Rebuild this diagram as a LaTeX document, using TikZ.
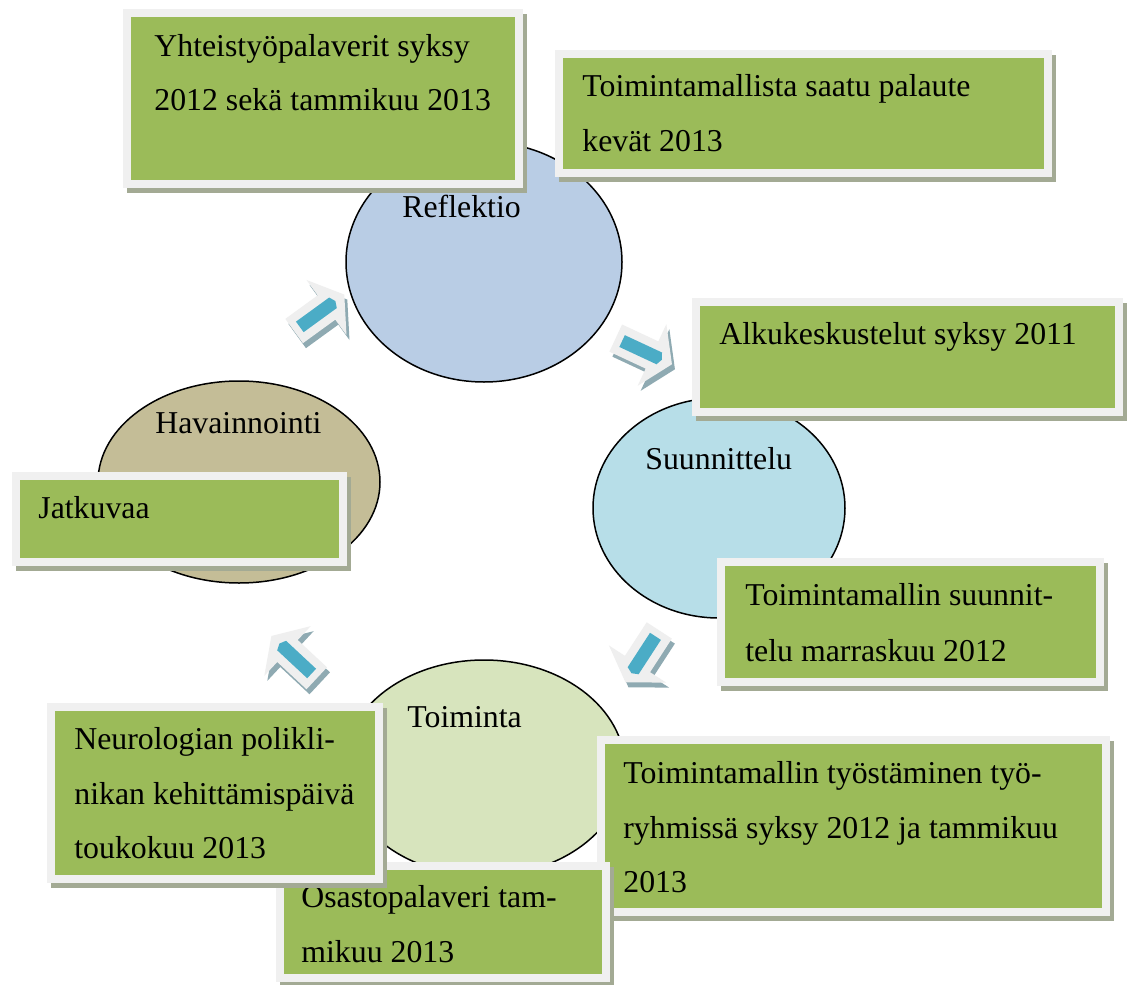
\documentclass[tikz,border=0pt]{standalone}
\usepackage{fontspec}
\setmainfont{Liberation Serif}
\usetikzlibrary{shapes.geometric}
\definecolor{boxgreen}{HTML}{9BBB59}
\definecolor{boxframe}{HTML}{F0F0F0}
\definecolor{boxshadow}{RGB}{163,170,148}
\definecolor{refl}{HTML}{B9CDE5}
\definecolor{suun}{HTML}{B7DEE8}
\definecolor{hava}{HTML}{C4BD97}
\definecolor{toim}{HTML}{D7E4BD}
\definecolor{arrbody}{HTML}{EFEFEF}
\definecolor{arrbar}{HTML}{4BACC6}
\definecolor{arrshadow}{RGB}{143,170,178}
\tikzset{
  phase/.style={ellipse, draw=black, line width=0.75pt, inner sep=0pt},
  txt/.style={anchor=base west, inner sep=0pt, font=\fontsize{15.9}{27}\selectfont},
}
% name, x1, y1, x2, y2 (px, y downwards)
\newcommand\gbox[5]{%
  \fill[boxshadow] (#2+4,#3+5) rectangle (#4+4,#5+5);
  \fill[boxframe] (#2,#3) rectangle (#4,#5);
  \fill[boxgreen] (#2+8,#3+8) rectangle (#4-8,#5-8);
  \coordinate (#1) at ({(#2+#4)/2},{(#3+#5)/2});
}
% name, x, y, angle
\newcommand\cyarrow[4]{%
  \begin{scope}[shift={(#2+3,#3+5)},rotate=#4]
    \fill[arrshadow] (-40,-15)--(0,-15)--(0,-34)--(22,0)--(0,34)--(0,15)--(-40,15)--cycle;
  \end{scope}
  \begin{scope}[shift={(#2,#3)},rotate=#4]
    \fill[arrbody] (-40,-15)--(0,-15)--(0,-34)--(22,0)--(0,34)--(0,15)--(-40,15)--cycle;
    \fill[arrbar] (-33,-6.5)--(8,-6.5)--(11,0)--(8,6.5)--(-33,6.5)--cycle;
    \coordinate (#1) at (0,0);
  \end{scope}
}
\begin{document}
\begin{tikzpicture}[x=0.5pt,y=-0.5pt]
\useasboundingbox (0,0) rectangle (1131,985);
\fill[white] (0,0) rectangle (1131,985);

% phases
\node[phase, fill=refl, minimum width=138pt, minimum height=120pt] (refl) at (484,262) {};
\node[phase, fill=suun, minimum width=126pt, minimum height=110pt] (suun) at (719,508) {};
\node[phase, fill=hava, minimum width=141pt, minimum height=101pt] (hava) at (239,482) {};
\node[phase, fill=toim, minimum width=141pt, minimum height=108pt] (toim) at (484,768) {};

\node[txt] (lrefl) at (402,217) {Reflektio};
\node[txt] (lsuun) at (645,469) {Suunnittelu};
\node[txt] (lhava) at (155,433) {Havainnointi};
\node[txt] (ltoim) at (407,727) {Toiminta};

% arrows
\cyarrow{a1}{326.5}{307.5}{36}
\cyarrow{a2}{652}{355}{-25}
\cyarrow{a3}{637.5}{664}{237}
\cyarrow{a4}{287.5}{651}{137}

% boxes
\gbox{b1}{123}{9}{523}{188}
\node[txt] (t1a) at (154,56) {Yhteistyöpalaverit syksy};
\node[txt] (t1b) at (154,110) {2012 sekä tammikuu 2013};

\gbox{b2}{555}{50}{1052}{177}
\node[txt] (t2a) at (582,97) {Toimintamallista saatu palaute};
\node[txt] (t2b) at (582,151) {kevät 2013};

\gbox{b3}{692}{298}{1123}{416}
\node[txt] (t3a) at (719,344) {Alkukeskustelut syksy 2011};

\gbox{b4}{12}{472}{347}{566}
\node[txt] (t4a) at (38,518) {Jatkuvaa};

\gbox{b5}{717}{558}{1104}{686}
\node[txt] (t5a) at (745,605) {Toimintamallin suunnit-};
\node[txt] (t5b) at (745,661) {telu marraskuu 2012};

\gbox{b7}{597}{736}{1110}{916}
\node[txt] (t7a) at (623,783) {Toimintamallin työstäminen työ-};
\node[txt] (t7b) at (623,838) {ryhmissä syksy 2012 ja tammikuu};
\node[txt] (t7c) at (623,892) {2013};

\gbox{b8}{276}{862}{610}{982}
\node[txt] (t8a) at (301,907) {Osastopalaveri tam-};
\node[txt] (t8b) at (301,962) {mikuu 2013};

\gbox{b6}{47}{703}{383}{883}
\node[txt] (t6a) at (74,749) {Neurologian polikli-};
\node[txt] (t6b) at (74,804) {nikan kehittämispäivä};
\node[txt] (t6c) at (74,858) {toukokuu 2013};
\end{tikzpicture}
\end{document}
